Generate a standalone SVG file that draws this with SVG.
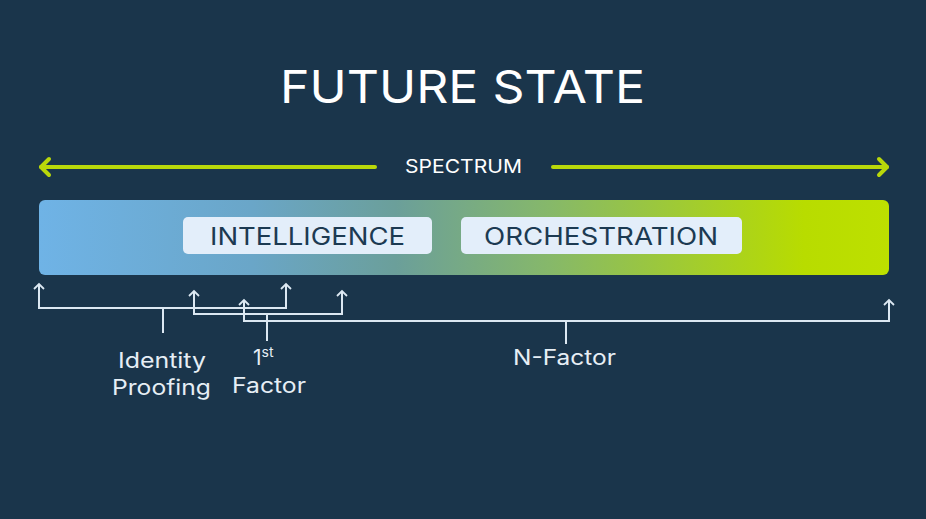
<svg xmlns="http://www.w3.org/2000/svg" width="926" height="519" viewBox="0 0 926 519">
<defs>
<linearGradient id="bar" x1="0" y1="0" x2="1" y2="0">
<stop offset="0" stop-color="#6fb3e6"/>
<stop offset="0.25" stop-color="#6aa6c8"/>
<stop offset="0.42" stop-color="#6b9f9a"/>
<stop offset="0.6" stop-color="#86b86a"/>
<stop offset="0.9" stop-color="#b8dc00"/>
<stop offset="1" stop-color="#bde000"/>
</linearGradient>
</defs>
<style>
.t{font-family:"Inter","Noto Sans","Liberation Sans",sans-serif;fill:#ffffff}
.lbl{font-size:21px;fill:#e6eef5}
.box{fill:#e3eefa}
.bt{font-family:"Inter","Noto Sans","Liberation Sans",sans-serif;font-size:24px;fill:#1c3a52}
.br{fill:none;stroke:#dce8f2;stroke-width:2}
.ah{fill:none;stroke:#dce8f2;stroke-width:1.8}
.spec{fill:none;stroke:#b9d80a;stroke-width:4;stroke-linecap:round;stroke-linejoin:round}
</style>
<rect width="926" height="519" fill="#1a354b"/>
<text class="t" x="280" y="103" font-size="45" textLength="365" lengthAdjust="spacingAndGlyphs">FUTURE STATE</text>
<g id="spectrum">
<line class="spec" x1="41" y1="167" x2="375" y2="167"/>
<polyline class="spec" points="49,159 41,167 49,175"/>
<line class="spec" x1="553" y1="167" x2="887" y2="167"/>
<polyline class="spec" points="879,159 887,167 879,175"/>
<text class="t" x="405" y="173" font-size="19" textLength="117" lengthAdjust="spacingAndGlyphs">SPECTRUM</text>
</g>
<g id="bar-node">
<rect x="39" y="200" width="850" height="75" rx="6" fill="url(#bar)"/>
</g>
<g id="intelligence">
<rect class="box" x="183" y="217" width="249" height="37" rx="5"/>
<text class="bt" x="210" y="245" textLength="195" lengthAdjust="spacingAndGlyphs">INTELLIGENCE</text>
</g>
<g id="orchestration">
<rect class="box" x="461" y="217" width="281" height="37" rx="5"/>
<text class="bt" x="484" y="245" textLength="234" lengthAdjust="spacingAndGlyphs">ORCHESTRATION</text>
</g>
<g id="connectors">
<path class="br" d="M39,284 V308 H286 V284"/>
<polyline class="ah" points="34,289 39,284 44,289"/>
<polyline class="ah" points="281,289 286,284 291,289"/>
<line class="br" x1="163" y1="308" x2="163" y2="333"/>
<path class="br" d="M194,291 V314 H342 V291"/>
<polyline class="ah" points="189,296 194,291 199,296"/>
<polyline class="ah" points="337,296 342,291 347,296"/>
<line class="br" x1="267" y1="314" x2="267" y2="341"/>
<path class="br" d="M244,300 V321 H889 V300"/>
<polyline class="ah" points="239,305 244,300 249,305"/>
<polyline class="ah" points="884,305 889,300 894,305"/>
<line class="br" x1="566" y1="321" x2="566" y2="344"/>
</g>
<g id="identity-proofing">
<text class="t lbl" x="118" y="368" textLength="88" lengthAdjust="spacingAndGlyphs">Identity</text>
<text class="t lbl" x="112" y="395" textLength="99" lengthAdjust="spacingAndGlyphs">Proofing</text>
</g>
<g id="first-factor">
<text class="t lbl" x="253" y="365">1<tspan font-size="14" dy="-8">st</tspan></text>
<text class="t lbl" x="232" y="393" textLength="74" lengthAdjust="spacingAndGlyphs">Factor</text>
</g>
<g id="n-factor">
<text class="t lbl" x="513" y="365" textLength="103" lengthAdjust="spacingAndGlyphs">N-Factor</text>
</g>
</svg>
